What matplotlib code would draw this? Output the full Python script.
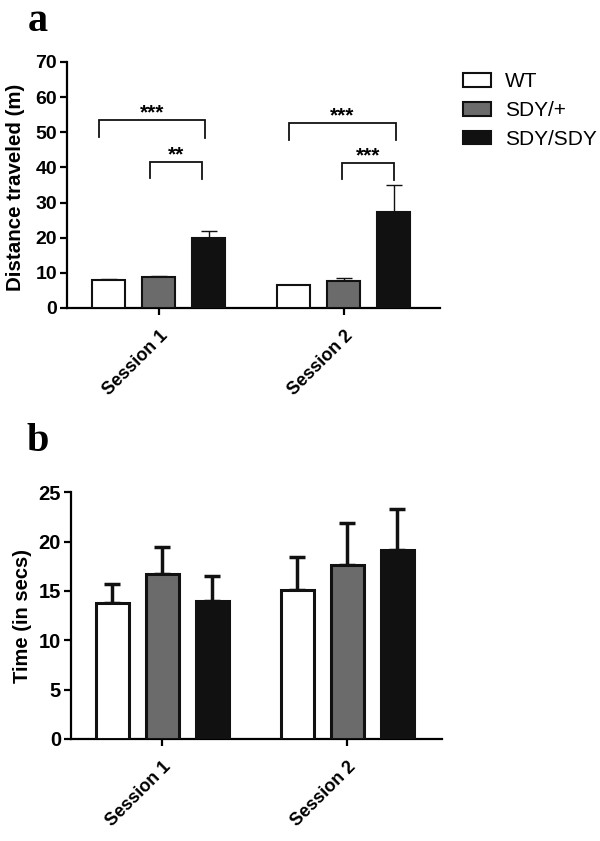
import matplotlib
matplotlib.use("Agg")
import matplotlib.pyplot as plt
from matplotlib.patches import Patch
import numpy as np

plt.rcParams['font.family'] = ['Liberation Sans', 'DejaVu Sans']

sessions = ["Session 1", "Session 2"]
groups = ["WT", "SDY/+", "SDY/SDY"]
colors = ["#ffffff", "#6b6b6b", "#111111"]

# Panel a: distance traveled (m)
dist_mean = {"WT": [8.1, 6.5], "SDY/+": [8.85, 7.7], "SDY/SDY": [19.9, 27.3]}
dist_err = {"WT": [0.2, 0.15], "SDY/+": [0.3, 0.85], "SDY/SDY": [2.1, 7.7]}

# Panel b: time (in secs)
time_mean = {"WT": [13.75, 15.1], "SDY/+": [16.7, 17.6], "SDY/SDY": [14.0, 19.2]}
time_err = {"WT": [2.0, 3.3], "SDY/+": [2.8, 4.3], "SDY/SDY": [2.5, 4.1]}

# significance brackets: (session index, group from, group to, height, label)
brackets = [(0, 0, 2, 53.4, "***"), (0, 1, 2, 41.6, "**"),
            (1, 0, 2, 52.6, "***"), (1, 1, 2, 41.3, "***")]

fig = plt.figure(figsize=(6, 8.41), dpi=100)
ax_a = fig.add_axes([0.111, 0.6338, 0.622, 0.2925])
ax_b = fig.add_axes([0.118, 0.1213, 0.618, 0.2933])

centers = np.array([0.0, 3.7])
offsets = [-1, 0, 1]
width = 0.66


def draw(ax, means, errs, ebw, edgew, capth, fs):
    for gi, g in enumerate(groups):
        x = centers + offsets[gi]
        ax.bar(x, means[g], width=width, color=colors[gi], edgecolor="#111111",
               linewidth=edgew, zorder=3)
        ax.errorbar(x, means[g], yerr=[np.zeros(2), errs[g]], fmt="none",
                    ecolor="#111111", elinewidth=ebw, capsize=6, capthick=capth,
                    zorder=2)
    for s in ["top", "right"]:
        ax.spines[s].set_visible(False)
    for s in ["left", "bottom"]:
        ax.spines[s].set_linewidth(1.6)
    ax.set_xticks(centers)
    ax.set_xticklabels(sessions, rotation=45, ha="right", rotation_mode="anchor",
                       fontsize=13, fontweight="bold")
    ax.tick_params(axis="both", width=1.6, length=5)
    ax.tick_params(axis="y", labelsize=fs, pad=2)
    ax.tick_params(axis="x", pad=9)


draw(ax_a, dist_mean, dist_err, 1.0, 1.5, 1.0, 14)
ax_a.set_ylim(0, 70)
ax_a.set_yticks(np.arange(0, 71, 10))
ax_a.set_xlim(-1.846, 5.62)
for t in ax_a.get_yticklabels():
    t.set_fontweight("bold")
ax_a.set_ylabel("Distance traveled (m)", fontsize=14.8, fontweight="bold")
ax_a.yaxis.set_label_coords(-0.112, 0.49)

leg_ext = [(-1.2, 0.93), (-0.17, 0.87), (-1.1, 1.04), (-0.04, 1.0)]
for (si, g0, g1, h, lab), (xl, xr) in zip(brackets, leg_ext):
    x0 = centers[si] + xl
    x1 = centers[si] + xr
    ax_a.plot([x0, x0, x1, x1], [h - 4.7, h, h, h - 4.9], color="#111111",
              lw=1.3, solid_joinstyle="miter", zorder=4)
    ax_a.text((x0 + x1) / 2, h - 0.6, lab, ha="center", va="bottom",
              fontsize=15, fontweight="bold")

draw(ax_b, time_mean, time_err, 2.5, 2.2, 2.5, 14.5)
ax_b.set_ylim(0, 25)
ax_b.set_yticks(np.arange(0, 26, 5))
ax_b.set_xlim(-1.826, 5.59)
for t in ax_b.get_yticklabels():
    t.set_fontweight("bold")
ax_b.set_ylabel("Time (in secs)", fontsize=14.5, fontweight="bold")
ax_b.yaxis.set_label_coords(-0.104, 0.5)

handles = [Patch(facecolor=c, edgecolor="#111111", linewidth=1.5) for c in colors]
fig.legend(handles, groups, loc="upper left", bbox_to_anchor=(0.771, 0.914),
           frameon=False, fontsize=15, handlelength=1.35, handleheight=0.62,
           handletextpad=0.68, labelspacing=0.47, borderpad=0, borderaxespad=0)

fig.text(28 / 600, 1 - 31 / 841, "a", fontsize=29, fontweight="bold",
         family=["Liberation Serif", "DejaVu Serif"], va="baseline", ha="left")
fig.text(27 / 600, 1 - 451 / 841, "b", fontsize=29, fontweight="bold",
         family=["Liberation Serif", "DejaVu Serif"], va="baseline", ha="left")

fig.savefig("out.png", dpi=100)
